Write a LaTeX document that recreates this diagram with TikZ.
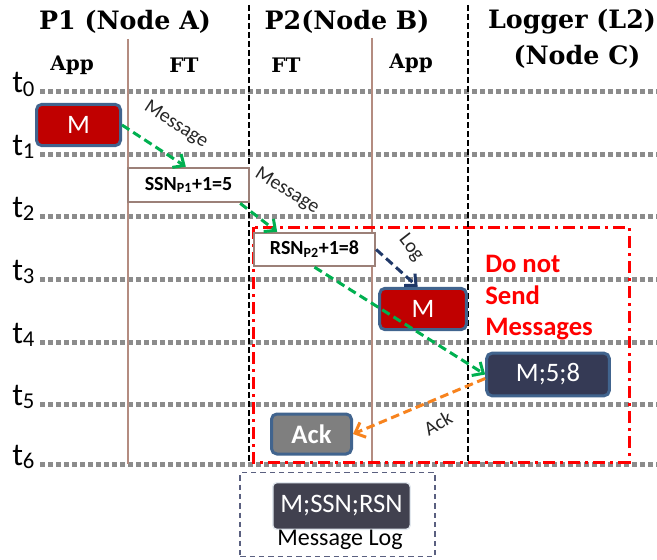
\documentclass[tikz,border=0pt]{standalone}
\usepackage{fontspec}
\setmainfont{Carlito}
\newfontfamily\hdrfont{DejaVu Serif}
\usetikzlibrary{arrows.meta}
\definecolor{gridgray}{HTML}{8C8C8C}
\definecolor{lanebrown}{HTML}{B48C80}
\definecolor{boxred}{HTML}{C00000}
\definecolor{boxedge}{HTML}{41648E}
\definecolor{boxnavy}{HTML}{353A55}
\definecolor{boxgray}{HTML}{7F7F7F}
\definecolor{logfill}{HTML}{41414F}
\definecolor{logedge}{HTML}{5A6080}
\definecolor{arrgreen}{HTML}{00B050}
\definecolor{arrorange}{HTML}{F7831E}
\definecolor{arrnavy}{HTML}{1F3868}
\definecolor{ssnedge}{HTML}{9C8078}
\definecolor{alertred}{HTML}{FF0000}
\newcommand\tlab[1]{{\fontsize{24}{24}\selectfont t}\raisebox{-0.5ex}{\fontsize{17}{17}\selectfont #1}}
\begin{document}
\begin{tikzpicture}[x=0.75pt,y=-0.75pt,
  tline/.style={gridgray, line width=3.75pt, dash pattern=on 3.75pt off 2.25pt},
  lane/.style={lanebrown, line width=1.5pt},
  sepline/.style={black, line width=1.5pt, dash pattern=on 4.5pt off 2.25pt},
  header/.style={font=\hdrfont\bfseries\fontsize{19}{21}\selectfont, inner sep=0pt},
  subhdr/.style={font=\hdrfont\bfseries\fontsize{15}{17}\selectfont, inner sep=0pt},
  tlabel/.style={anchor=base west, inner sep=0pt},
  bluebox/.style={draw=boxedge, line width=2.25pt, rounded corners=4pt, text=white, font=\fontsize{20}{20}\selectfont, inner sep=0pt},
  seqbox/.style={draw=ssnedge, fill=white, line width=1.5pt, font=\bfseries\fontsize{15}{15}\selectfont, inner sep=0pt},
  msgarrow/.style={line width=2.25pt, dash pattern=on 6.5pt off 3.5pt, -{Straight Barb[length=6.5pt,width=12pt]}},
  arrlabel/.style={font=\fontsize{15}{15}\selectfont, text=black!85, inner sep=0pt}
]
\useasboundingbox (0,0) rectangle (657,560);
% time lines
\foreach \i/\y in {0/92,1/154,2/216,3/279,4/342,5/404,6/464}{
  \draw[tline] (40,\y) -- (657,\y);
  \node[tlabel] (t\i) at (12,\y+1) {\tlab{\i}};
}
% lanes
\draw[lane] (128,39) -- (128,464);
\draw[lane] (372,38) -- (372,464);
% forbidden region
\draw[alertred, line width=2.25pt, dash pattern=on 9pt off 3.75pt on 2.25pt off 3.75pt] (253,227) rectangle (629,462);
\draw[sepline] (249,5) -- (249,464);
\draw[sepline] (468,5) -- (468,464);
% headers
\node[header] (hp1) at (125,22) {P1 (Node A)};
\node[header] (hp2) at (347,22) {P2(Node B)};
\node[header] (hlog) at (572,22) {Logger (L2)};
\node[header] (hnc) at (577,57) {(Node C)};
\node[subhdr] (app1) at (72,65) {App};
\node[subhdr] (ft1) at (184,65) {FT};
\node[subhdr] (ft2) at (286,65) {FT};
\node[subhdr] (app2) at (411,63) {App};
% boxes
\node[bluebox, fill=boxred, minimum width=63pt, minimum height=31pt] (m1) at (78.5,125) {M};
\node[seqbox, minimum width=91pt, minimum height=26pt] (ssn) at (188.5,185) {SSN\textsubscript{P1}+1=5};
\node[seqbox, minimum width=91pt, minimum height=25pt] (rsn) at (314.5,249.5) {RSN\textsubscript{P2}+1=8};
\node[bluebox, fill=boxred, minimum width=65pt, minimum height=31pt] (m2) at (423,309) {M};
\node[bluebox, fill=boxnavy, minimum width=92pt, minimum height=32pt] (m58) at (548,374.5) {M;5;8};
\node[bluebox, fill=boxgray, minimum width=60pt, minimum height=30pt, font=\bfseries\fontsize{20}{20}\selectfont] (ack) at (311.5,434) {Ack};
\node[draw=logedge, line width=1.2pt, dash pattern=on 4pt off 3pt, minimum width=146pt, minimum height=63pt, inner sep=0pt] (logbox) at (337.5,514.5) {};
\node[draw=white!85!boxedge, fill=logfill, line width=1pt, rounded corners=3pt, minimum width=103pt, minimum height=35pt, inner sep=0pt, text=white, font=\fontsize{20}{20}\selectfont] (msr) at (341.5,506) {M;SSN;RSN};
\node[inner sep=0pt, font=\fontsize{18}{18}\selectfont] (mlog) at (340,540) {Message Log};
\node[anchor=north west, align=left, inner sep=0pt, text=alertred, font=\bfseries\fontsize{20}{23.6}\selectfont] (warn) at (485,255) {Do not\\Send\\Messages};
% arrows
\draw[msgarrow, arrgreen] (m1.east) -- ([xshift=-2pt]ssn.north);
\draw[msgarrow, arrgreen] ([xshift=-7.5pt]ssn.south east) -- ([xshift=-28pt]rsn.north);
\draw[msgarrow, arrnavy] (rsn.east) -- ([xshift=-4pt]m2.north);
\draw[msgarrow, arrgreen] (rsn.south) -- (m58.west);
\draw[msgarrow, arrorange] ([yshift=-3pt]m58.west) -- (ack.east);
% arrow labels
\node[arrlabel, rotate=-33] (lmsg1) at (176,125) {Message};
\node[arrlabel, rotate=-32] (lmsg2) at (287,191) {Message};
\node[arrlabel, rotate=-52] (llog) at (411,248) {Log};
\node[arrlabel, rotate=30] (lack) at (438,423) {Ack};
\end{tikzpicture}
\end{document}
